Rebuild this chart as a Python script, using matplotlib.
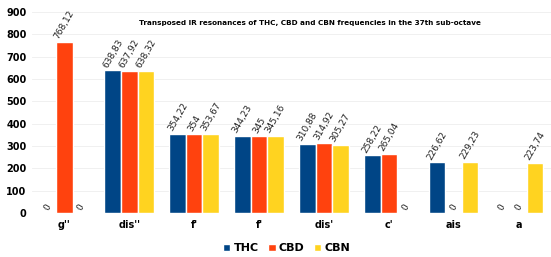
import matplotlib.pyplot as plt
import numpy as np

categorias = ["g''", "dis''", "f'", "f'", "dis'", "c'", "ais", "a"]
thc = [0, 638.83, 354.22, 344.23, 310.88, 258.22, 226.62, 0]
cbd = [768.12, 637.92, 354, 345, 314.92, 265.04, 0, 0]
cbn = [0, 638.32, 353.67, 345.16, 305.27, 0, 229.23, 223.74]
series = ["THC", "CBD", "CBN"]
cores = ["#004586", "#FF420E", "#FFD320"]

def fmt(v):
    s = ("%.2f" % v).rstrip("0").rstrip(".")
    return s.replace(".", ",")

fig = plt.figure(figsize=(5.51, 2.57), dpi=100)
ax = fig.add_axes([0.058, 0.171, 0.942, 0.782])

x = np.arange(len(categorias))
w = 0.255
for i, (nome, vals, cor) in enumerate(zip(series, [thc, cbd, cbn], cores)):
    pos = x + (i - 1) * w
    ax.bar(pos, vals, w, color=cor, edgecolor="white", linewidth=1.0, label=nome, zorder=2)
    for px, v in zip(pos, vals):
        ax.text(px, v + 6, fmt(v), rotation=60, ha="center", va="bottom",
                fontsize=6.5, color="#222222")

ax.set_xlim(-0.5, len(categorias) - 0.5)
ax.set_ylim(0, 900)
ax.set_yticks(range(0, 901, 100))
ax.set_xticks(x)
ax.set_xticklabels(categorias, fontsize=7, fontweight="bold")
ax.tick_params(axis="y", labelsize=7, length=0, pad=4)
ax.tick_params(axis="x", length=0, pad=5)
for lab in ax.get_yticklabels():
    lab.set_fontweight("bold")
ax.grid(axis="y", color="#eeeeee", linewidth=0.6, zorder=0)
for s in ax.spines.values():
    s.set_visible(False)

ax.text(0.535, 0.96, "Transposed IR resonances of THC, CBD and CBN frequencies in the 37th sub-octave",
        transform=ax.transAxes, ha="center", va="top", fontsize=5.2, fontweight="bold")

fig.legend(loc="lower center", bbox_to_anchor=(0.52, -0.025), ncol=3, frameon=False,
           handlelength=0.7, handleheight=0.7, handletextpad=0.3,
           columnspacing=0.8, prop={"weight": "bold", "size": 8})

fig.savefig("out.png", dpi=100)
